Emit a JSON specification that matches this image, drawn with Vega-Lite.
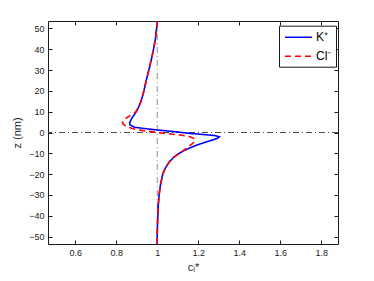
{
  "$schema": "https://vega.github.io/schema/vega-lite/v6.json",
  "width": 290,
  "height": 223,
  "autosize": {"type": "none"},
  "padding": {"left": 48, "top": 21, "right": 36, "bottom": 37},
  "background": "white",
  "config": {
    "view": {"stroke": null},
    "font": "Liberation Sans",
    "axis": {
      "grid": false,
      "domainColor": "#1a1a1a",
      "tickColor": "#1a1a1a",
      "tickSize": -4,
      "labelColor": "#1a1a1a",
      "labelFont": "Liberation Sans",
      "labelFontSize": 9,
      "titleFont": "Liberation Sans",
      "titleFontWeight": "normal",
      "titleColor": "#1a1a1a"
    }
  },
  "datasets": {
    "curves": [
      {"ion": "K⁺", "z": 53.5, "c": 1.0},
      {"ion": "K⁺", "z": 50, "c": 0.997},
      {"ion": "K⁺", "z": 45, "c": 0.991},
      {"ion": "K⁺", "z": 40, "c": 0.982},
      {"ion": "K⁺", "z": 35, "c": 0.971},
      {"ion": "K⁺", "z": 30, "c": 0.959},
      {"ion": "K⁺", "z": 25, "c": 0.946},
      {"ion": "K⁺", "z": 20, "c": 0.935},
      {"ion": "K⁺", "z": 15, "c": 0.921},
      {"ion": "K⁺", "z": 12, "c": 0.908},
      {"ion": "K⁺", "z": 10, "c": 0.898},
      {"ion": "K⁺", "z": 8.5, "c": 0.887},
      {"ion": "K⁺", "z": 7, "c": 0.877},
      {"ion": "K⁺", "z": 5.9, "c": 0.871},
      {"ion": "K⁺", "z": 4.8, "c": 0.866},
      {"ion": "K⁺", "z": 3.7, "c": 0.866},
      {"ion": "K⁺", "z": 2.5, "c": 0.89},
      {"ion": "K⁺", "z": 1.7, "c": 0.955},
      {"ion": "K⁺", "z": 1.0, "c": 1.02},
      {"ion": "K⁺", "z": 0.5, "c": 1.075},
      {"ion": "K⁺", "z": 0, "c": 1.12},
      {"ion": "K⁺", "z": -0.5, "c": 1.165},
      {"ion": "K⁺", "z": -1.0, "c": 1.23},
      {"ion": "K⁺", "z": -1.5, "c": 1.283},
      {"ion": "K⁺", "z": -2.1, "c": 1.303},
      {"ion": "K⁺", "z": -2.8, "c": 1.293},
      {"ion": "K⁺", "z": -3.6, "c": 1.27},
      {"ion": "K⁺", "z": -4.5, "c": 1.24},
      {"ion": "K⁺", "z": -6, "c": 1.195},
      {"ion": "K⁺", "z": -7.7, "c": 1.152},
      {"ion": "K⁺", "z": -8.5, "c": 1.135},
      {"ion": "K⁺", "z": -10, "c": 1.107},
      {"ion": "K⁺", "z": -12, "c": 1.08},
      {"ion": "K⁺", "z": -14, "c": 1.06},
      {"ion": "K⁺", "z": -17, "c": 1.04},
      {"ion": "K⁺", "z": -20, "c": 1.027},
      {"ion": "K⁺", "z": -25, "c": 1.016},
      {"ion": "K⁺", "z": -30, "c": 1.009},
      {"ion": "K⁺", "z": -35, "c": 1.005},
      {"ion": "K⁺", "z": -40, "c": 1.003},
      {"ion": "K⁺", "z": -45, "c": 1.001},
      {"ion": "K⁺", "z": -53.5, "c": 0.999},
      {"ion": "Cl⁻", "z": 53.5, "c": 1.0},
      {"ion": "Cl⁻", "z": 50, "c": 0.997},
      {"ion": "Cl⁻", "z": 45, "c": 0.991},
      {"ion": "Cl⁻", "z": 40, "c": 0.982},
      {"ion": "Cl⁻", "z": 35, "c": 0.971},
      {"ion": "Cl⁻", "z": 30, "c": 0.959},
      {"ion": "Cl⁻", "z": 25, "c": 0.946},
      {"ion": "Cl⁻", "z": 20, "c": 0.935},
      {"ion": "Cl⁻", "z": 15, "c": 0.921},
      {"ion": "Cl⁻", "z": 12, "c": 0.908},
      {"ion": "Cl⁻", "z": 10, "c": 0.896},
      {"ion": "Cl⁻", "z": 9, "c": 0.884},
      {"ion": "Cl⁻", "z": 8, "c": 0.866},
      {"ion": "Cl⁻", "z": 7, "c": 0.85},
      {"ion": "Cl⁻", "z": 6, "c": 0.838},
      {"ion": "Cl⁻", "z": 5, "c": 0.83},
      {"ion": "Cl⁻", "z": 4.3, "c": 0.832},
      {"ion": "Cl⁻", "z": 3.5, "c": 0.84},
      {"ion": "Cl⁻", "z": 2.9, "c": 0.852},
      {"ion": "Cl⁻", "z": 2.0, "c": 0.875},
      {"ion": "Cl⁻", "z": 1.3, "c": 0.905},
      {"ion": "Cl⁻", "z": 0.8, "c": 0.94},
      {"ion": "Cl⁻", "z": 0.2, "c": 0.985},
      {"ion": "Cl⁻", "z": -0.3, "c": 1.025},
      {"ion": "Cl⁻", "z": -0.7, "c": 1.065},
      {"ion": "Cl⁻", "z": -1.3, "c": 1.12},
      {"ion": "Cl⁻", "z": -2.0, "c": 1.16},
      {"ion": "Cl⁻", "z": -2.9, "c": 1.18},
      {"ion": "Cl⁻", "z": -3.7, "c": 1.185},
      {"ion": "Cl⁻", "z": -4.5, "c": 1.18},
      {"ion": "Cl⁻", "z": -5.5, "c": 1.17},
      {"ion": "Cl⁻", "z": -6.9, "c": 1.15},
      {"ion": "Cl⁻", "z": -8.5, "c": 1.13},
      {"ion": "Cl⁻", "z": -10, "c": 1.107},
      {"ion": "Cl⁻", "z": -12, "c": 1.08},
      {"ion": "Cl⁻", "z": -14, "c": 1.06},
      {"ion": "Cl⁻", "z": -17, "c": 1.04},
      {"ion": "Cl⁻", "z": -20, "c": 1.027},
      {"ion": "Cl⁻", "z": -25, "c": 1.016},
      {"ion": "Cl⁻", "z": -30, "c": 1.009},
      {"ion": "Cl⁻", "z": -35, "c": 1.005},
      {"ion": "Cl⁻", "z": -40, "c": 1.003},
      {"ion": "Cl⁻", "z": -45, "c": 1.001},
      {"ion": "Cl⁻", "z": -53.5, "c": 0.999}
    ]
  },
  "layer": [
    {
      "data": {"values": [{"c": 1}]},
      "mark": {"type": "rule", "color": "#8c8c8c", "strokeWidth": 1, "strokeDash": [6, 3, 1, 3]},
      "encoding": {
        "x": {"field": "c", "type": "quantitative", "scale": {"domain": [0.467, 1.882], "nice": false, "zero": false},
          "axis": {"values": [0.6, 0.8, 1, 1.2, 1.4, 1.6, 1.8], "format": "~g", "title": "cᵢ*", "titleFontSize": 11, "labelPadding": 8, "titlePadding": 4}}
      }
    },
    {
      "data": {"values": [{"z": 0}]},
      "mark": {"type": "rule", "color": "#4d4d4d", "strokeWidth": 1, "strokeDash": [6, 3, 1, 3]},
      "encoding": {
        "y": {"field": "z", "type": "quantitative", "scale": {"domain": [-53.6, 53.6], "nice": false, "zero": false},
          "axis": {"values": [-50, -40, -30, -20, -10, 0, 10, 20, 30, 40, 50], "title": "z (nm)", "titleFontSize": 11, "labelPadding": 8, "titlePadding": 6}}
      }
    },
    {
      "data": {"name": "curves"},
      "mark": {"type": "line", "strokeWidth": 1.6},
      "encoding": {
        "x": {"field": "c", "type": "quantitative", "axis": null},
        "y": {"field": "z", "type": "quantitative", "axis": null},
        "order": {"field": "z", "sort": "descending"},
        "color": {"field": "ion", "type": "nominal",
          "scale": {"domain": ["K⁺", "Cl⁻"], "range": ["#0000ff", "#ff0000"]},
          "legend": {"title": null, "orient": "none", "legendX": 231, "legendY": 4.7,
            "symbolType": "M-2,0H2", "symbolSize": 182, "symbolStrokeWidth": 1.5, "symbolOffset": 8,
            "labelFontSize": 12, "labelFont": "Liberation Sans", "labelColor": "#000",
            "labelOffset": 10, "rowPadding": 5, "padding": 4,
            "strokeColor": "#1a1a1a", "fillColor": "white"}},
        "strokeDash": {"field": "ion", "type": "nominal",
          "scale": {"domain": ["K⁺", "Cl⁻"], "range": [[1, 0], [6, 4]]},
          "legend": {"title": null, "orient": "none", "legendX": 231, "legendY": 4.7,
            "symbolType": "M-2,0H2", "symbolSize": 182, "symbolStrokeWidth": 1.5, "symbolOffset": 8,
            "labelFontSize": 12, "labelFont": "Liberation Sans", "labelColor": "#000",
            "labelOffset": 10, "rowPadding": 5, "padding": 4,
            "strokeColor": "#1a1a1a", "fillColor": "white"}}
      }
    },
    {
      "data": {"values": [{"c": 1, "z": 0}]},
      "mark": {"type": "rule", "opacity": 0},
      "encoding": {
        "x": {"field": "c", "type": "quantitative",
          "axis": {"orient": "top", "values": [0.6, 0.8, 1, 1.2, 1.4, 1.6, 1.8], "labels": false, "title": null}},
        "y": {"field": "z", "type": "quantitative",
          "axis": {"orient": "right", "values": [-50, -40, -30, -20, -10, 0, 10, 20, 30, 40, 50], "labels": false, "title": null}}
      }
    }
  ],
  "resolve": {"axis": {"x": "independent", "y": "independent"}}
}
